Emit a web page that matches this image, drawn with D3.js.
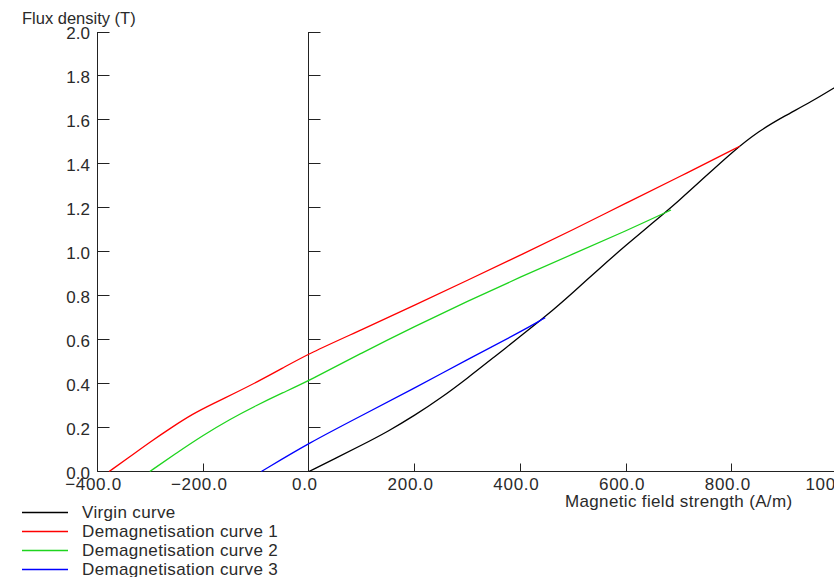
<!DOCTYPE html>
<html>
<head>
<meta charset="utf-8">
<script src="https://cdn.jsdelivr.net/npm/d3@7"></script>
<style>
  body { margin: 0; background: #fff; }
  svg text { font-family: "Liberation Sans", Arial, sans-serif; fill: #2a2a2a; }
</style>
</head>
<body>
<figure id="chart" style="margin:0"></figure>
<script>
// magnetic field strength H (A/m) and flux density B (T)
const virginH = [0, 50, 100, 150, 200, 250, 300, 350, 400, 450, 500, 550, 600, 650, 700, 750, 800, 850, 900, 950, 1000];
const virginB = [0, 0.06, 0.12, 0.183, 0.255, 0.335, 0.425, 0.52, 0.615, 0.71, 0.815, 0.925, 1.03, 1.13, 1.232, 1.342, 1.452, 1.548, 1.618, 1.682, 1.755];

const demag1H = [-378, -340, -300, -260, -220, -180, -140, -100, -50, 0, 100, 200, 300, 400, 500, 600, 700, 815];
const demag1B = [0, 0.065, 0.135, 0.2, 0.262, 0.31, 0.357, 0.405, 0.47, 0.537, 0.645, 0.757, 0.87, 0.985, 1.1, 1.222, 1.34, 1.48];

const demag2H = [-301, -250, -200, -150, -100, -50, 0, 100, 200, 300, 400, 500, 600, 685];
const demag2B = [0, 0.085, 0.165, 0.237, 0.3, 0.358, 0.413, 0.54, 0.66, 0.775, 0.885, 0.99, 1.095, 1.19];

const demag3H = [-90, 0, 100, 200, 300, 400, 447];
const demag3B = [0, 0.13, 0.255, 0.38, 0.51, 0.635, 0.70];

const seriesNames = ['Virgin curve', 'Demagnetisation curve 1', 'Demagnetisation curve 2', 'Demagnetisation curve 3'];
const seriesColors = ['#000000', '#ff0000', '#1ed41e', '#0000ff'];

const xTicks = [-400, -200, 0, 200, 400, 600, 800, 1000];
const yTicks = [0, 0.2, 0.4, 0.6, 0.8, 1.0, 1.2, 1.4, 1.6, 1.8, 2.0];

const width = 834;
const height = 577;

const svg = d3.select('figure#chart')
  .append('svg')
  .attr('width', width)
  .attr('height', height)
  .attr('viewBox', `0 0 ${width} ${height}`);

const x = d3.scaleLinear().domain([-400, 1000]).range([97.5, 837.5]);
const y = d3.scaleLinear().domain([0, 2]).range([471.5, 32]);

const axisColor = '#222';
const px = v => Math.floor(v) + 0.5;

// left axis
svg.append('line')
  .attr('x1', px(x(-400))).attr('x2', px(x(-400)))
  .attr('y1', y(2)).attr('y2', y(0))
  .attr('stroke', axisColor);

svg.selectAll('.ytick-left')
  .data(yTicks)
  .enter().append('line')
  .attr('class', 'ytick-left')
  .attr('x1', px(x(-400))).attr('x2', px(x(-400)) + 12)
  .attr('y1', d => px(y(d))).attr('y2', d => px(y(d)))
  .attr('stroke', axisColor);

svg.selectAll('.ylabel')
  .data(yTicks)
  .enter().append('text')
  .attr('class', 'ylabel')
  .attr('x', 90)
  .attr('y', d => y(d))
  .attr('dy', '0.42em')
  .attr('text-anchor', 'end')
  .attr('font-size', 17)
  .text(d => d3.format('.1f')(d));

// vertical line through H = 0
svg.append('line')
  .attr('x1', px(x(0))).attr('x2', px(x(0)))
  .attr('y1', y(2)).attr('y2', y(0))
  .attr('stroke', axisColor);

svg.selectAll('.ytick-zero')
  .data(yTicks)
  .enter().append('line')
  .attr('class', 'ytick-zero')
  .attr('x1', px(x(0))).attr('x2', px(x(0)) + 12)
  .attr('y1', d => px(y(d))).attr('y2', d => px(y(d)))
  .attr('stroke', axisColor);

// bottom axis
svg.append('line')
  .attr('x1', px(x(-400))).attr('x2', width)
  .attr('y1', px(y(0))).attr('y2', px(y(0)))
  .attr('stroke', axisColor);

svg.selectAll('.xtick')
  .data(xTicks)
  .enter().append('line')
  .attr('class', 'xtick')
  .attr('x1', d => px(x(d))).attr('x2', d => px(x(d)))
  .attr('y1', px(y(0))).attr('y2', px(y(0)) - 8)
  .attr('stroke', axisColor);

svg.selectAll('.xlabel')
  .data(xTicks)
  .enter().append('text')
  .attr('class', 'xlabel')
  .attr('x', d => x(d) - 4)
  .attr('y', 490)
  .attr('text-anchor', 'middle')
  .attr('font-size', 17)
  .attr('letter-spacing', 0.7)
  .text(d => d3.format('.1f')(d));

// axis titles
svg.append('text')
  .attr('x', 22)
  .attr('y', 24)
  .attr('font-size', 16.5)
  .text('Flux density (T)');

svg.append('text')
  .attr('x', 565)
  .attr('y', 507)
  .attr('font-size', 17)
  .attr('letter-spacing', 0.35)
  .text('Magnetic field strength (A/m)');

// curves
const curves = [
  d3.zip(virginH, virginB),
  d3.zip(demag1H, demag1B),
  d3.zip(demag2H, demag2B),
  d3.zip(demag3H, demag3B)
];

const line = d3.line()
  .x(d => x(d[0]))
  .y(d => y(d[1]))
  .curve(d3.curveBasis);

svg.append('g')
  .selectAll('path')
  .data(curves)
  .enter().append('path')
  .attr('d', line)
  .attr('fill', 'none')
  .attr('stroke', (d, i) => seriesColors[i])
  .attr('stroke-width', 1.3);

// legend
const legend = svg.append('g')
  .selectAll('g')
  .data(seriesNames)
  .enter().append('g')
  .attr('transform', (d, i) => `translate(0, ${512.5 + i * 19})`);

legend.append('line')
  .attr('x1', 22).attr('x2', 68)
  .attr('y1', 0).attr('y2', 0)
  .attr('stroke', (d, i) => seriesColors[i])
  .attr('stroke-width', 1.3);

legend.append('text')
  .attr('x', 82)
  .attr('y', 5.5)
  .attr('font-size', 17)
  .attr('letter-spacing', 0.35)
  .text(d => d);
</script>
</body>
</html>
